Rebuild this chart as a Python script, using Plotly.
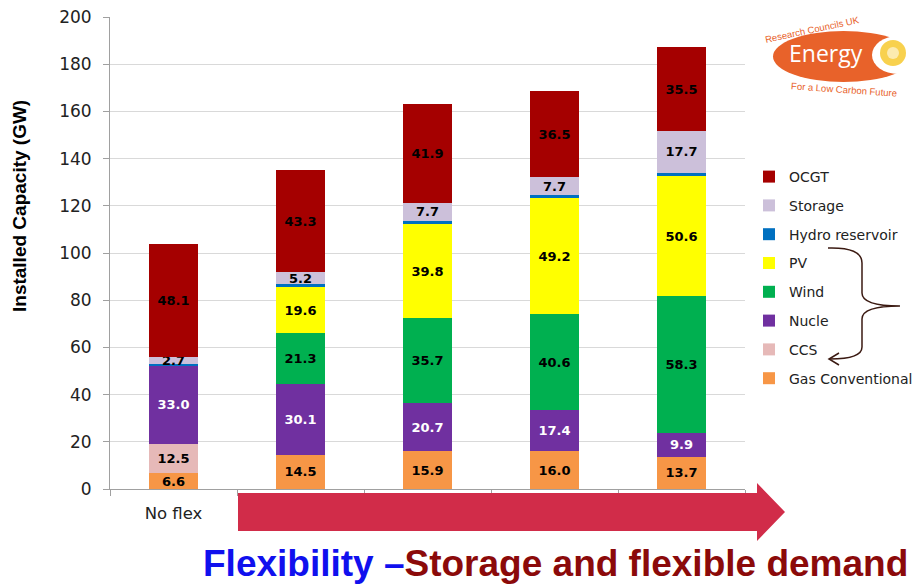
import plotly.graph_objects as go

# ---------------- data ----------------
categories = ["No flex", " ", "  ", "   ", "    "]
tick_labels = ["No flex", "", "", "", ""]

gas_conventional = [6.6, 14.5, 15.9, 16.0, 13.7]
ccs = [12.5, 0, 0, 0, 0]
nuclear = [33.0, 30.1, 20.7, 17.4, 9.9]
wind = [0, 21.3, 35.7, 40.6, 58.3]
pv = [0, 19.6, 39.8, 49.2, 50.6]
hydro_reservoir = [1.0, 1.2, 1.5, 1.2, 1.5]
storage = [2.7, 5.2, 7.7, 7.7, 17.7]
ocgt = [48.1, 43.3, 41.9, 36.5, 35.5]

series = [
    ("Gas Conventional", gas_conventional, "#F79646", "black", True),
    ("CCS", ccs, "#E6B9B8", "black", True),
    ("Nucle", nuclear, "#7030A0", "white", True),
    ("Wind", wind, "#00B050", "black", True),
    ("PV", pv, "#FFFF00", "black", True),
    ("Hydro reservoir", hydro_reservoir, "#0070C0", "black", False),
    ("Storage", storage, "#CCC0DA", "black", True),
    ("OCGT", ocgt, "#A50000", "black", True),
]

W, H = 921, 585
L, R, T, B = 110, 176, 17, 96
PW, PH = W - L - R, H - T - B


def px(x):
    return (x - L) / PW


def py(y):
    return (H - B - y) / PH


fig = go.Figure()
n = len(series)
for i, (name, vals, color, tcolor, show_lbl) in enumerate(series):
    texts = [f"{v:.1f}" if (show_lbl and v > 0) else "" for v in vals]
    fig.add_trace(go.Bar(
        x=categories, y=vals, name=name,
        marker=dict(color=color, line=dict(width=0)),
        text=texts, textposition="inside", insidetextanchor="middle",
        textangle=0,
        textfont=dict(family="DejaVu Sans", size=13, color=tcolor, weight="bold"),
        legendgroup=name, legendrank=n - i, hoverinfo="skip",
    ))

fig.update_layout(
    width=W, height=H,
    margin=dict(l=L, r=R, t=T, b=B, pad=0, autoexpand=False),
    barmode="stack", bargap=0.61,
    plot_bgcolor="white", paper_bgcolor="white",
    uniformtext=dict(minsize=13, mode="show"),
    font=dict(family="DejaVu Sans", color="#222222"),
    showlegend=True,
    legend=dict(
        x=px(749), y=py(161), xanchor="left", yanchor="top",
        traceorder="grouped", tracegroupgap=7.6,
        font=dict(family="DejaVu Sans", size=14, color="#222222"),
        bgcolor="rgba(0,0,0,0)", itemwidth=30,
    ),
)

fig.update_yaxes(
    range=[0, 200], dtick=20, showgrid=True, gridcolor="#D9D9D9", gridwidth=1,
    showline=True, linecolor="#A0A0A0", linewidth=1,
    ticks="outside", ticklen=6, tickcolor="#A0A0A0",
    tickfont=dict(family="DejaVu Sans", size=17, color="#222222"),
    ticklabelstandoff=8,
    zeroline=False,
)
fig.update_xaxes(
    type="category", tickvals=categories, ticktext=tick_labels,
    tickson="boundaries", ticks="outside", ticklen=6, tickcolor="#A0A0A0",
    showline=True, linecolor="#A0A0A0", linewidth=1,
    tickfont=dict(family="DejaVu Sans", size=16.5, color="#222222"),
    ticklabelstandoff=9,
)

shapes = []
# Big red arrow along the bottom
arrow_pts = [(238, 493), (757, 493), (757, 483), (785, 512), (757, 541), (757, 531), (238, 531)]
path = "M " + " L ".join(f"{px(x):.5f},{py(y):.5f}" for x, y in arrow_pts) + " Z"
shapes.append(dict(type="path", xref="paper", yref="paper", path=path,
                   fillcolor="#D12C49", line=dict(width=0)))


def P(x, y):
    return f"{px(x):.5f},{py(y):.5f}"


# Brace with arrow in the legend
brace = (f"M {P(828,248)} Q {P(862,247)} {P(862,263)} L {P(862,293)} "
         f"Q {P(862,306)} {P(900,306)} Q {P(862,306)} {P(862,319)} "
         f"L {P(862,347)} Q {P(862,359)} {P(830,359)}")
shapes.append(dict(type="path", xref="paper", yref="paper", path=brace,
                   line=dict(color="#3B1A12", width=1.5)))
arrowhead = f"M {P(839,353)} L {P(829,359)} L {P(839,365)}"
shapes.append(dict(type="path", xref="paper", yref="paper", path=arrowhead,
                   line=dict(color="#3B1A12", width=1.5)))

# Logo
shapes.append(dict(type="circle", xref="paper", yref="paper",
                   x0=px(773), x1=px(914), y0=py(82), y1=py(31),
                   fillcolor="#E8622A", line=dict(width=0)))
shapes.append(dict(type="circle", xref="paper", yref="paper",
                   x0=px(872), x1=px(924), y0=py(74), y1=py(36),
                   fillcolor="white", line=dict(width=0)))
shapes.append(dict(type="circle", xref="paper", yref="paper",
                   x0=px(880), x1=px(906), y0=py(66), y1=py(40),
                   fillcolor="#F8D14E", line=dict(width=0)))
shapes.append(dict(type="circle", xref="paper", yref="paper",
                   x0=px(887), x1=px(899), y0=py(59), y1=py(47),
                   fillcolor="#FCEBB0", line=dict(width=0)))


def ann(x, y, text, font, angle=0):
    return dict(x=px(x), y=py(y), xref="paper", yref="paper", showarrow=False,
                xanchor="center", yanchor="middle", text=text, textangle=angle,
                font=font)


annotations = [
    ann(19, 206, "Installed Capacity (GW)",
        dict(family="Liberation Sans", size=19, color="black", weight="bold"), -90),
    ann(826, 53, "Energy", dict(family="Open Sans", size=23, color="white")),
    ann(812, 29, "Research Councils UK",
        dict(family="Liberation Sans", size=9.5, color="#E8622A"), -12),
    ann(844, 89, "For a Low Carbon Future",
        dict(family="Liberation Sans", size=9.5, color="#E8622A"), 4),
    ann(555, 563,
        "<span style='color:#1010EE'>Flexibility –</span>"
        "<span style='color:#8B0A0A'>Storage and flexible demand</span>",
        dict(family="Liberation Sans Narrow, Arial Narrow, Liberation Sans",
             size=37, weight="bold")),
]

fig.update_layout(shapes=shapes, annotations=annotations)
fig.write_html("out.html")
